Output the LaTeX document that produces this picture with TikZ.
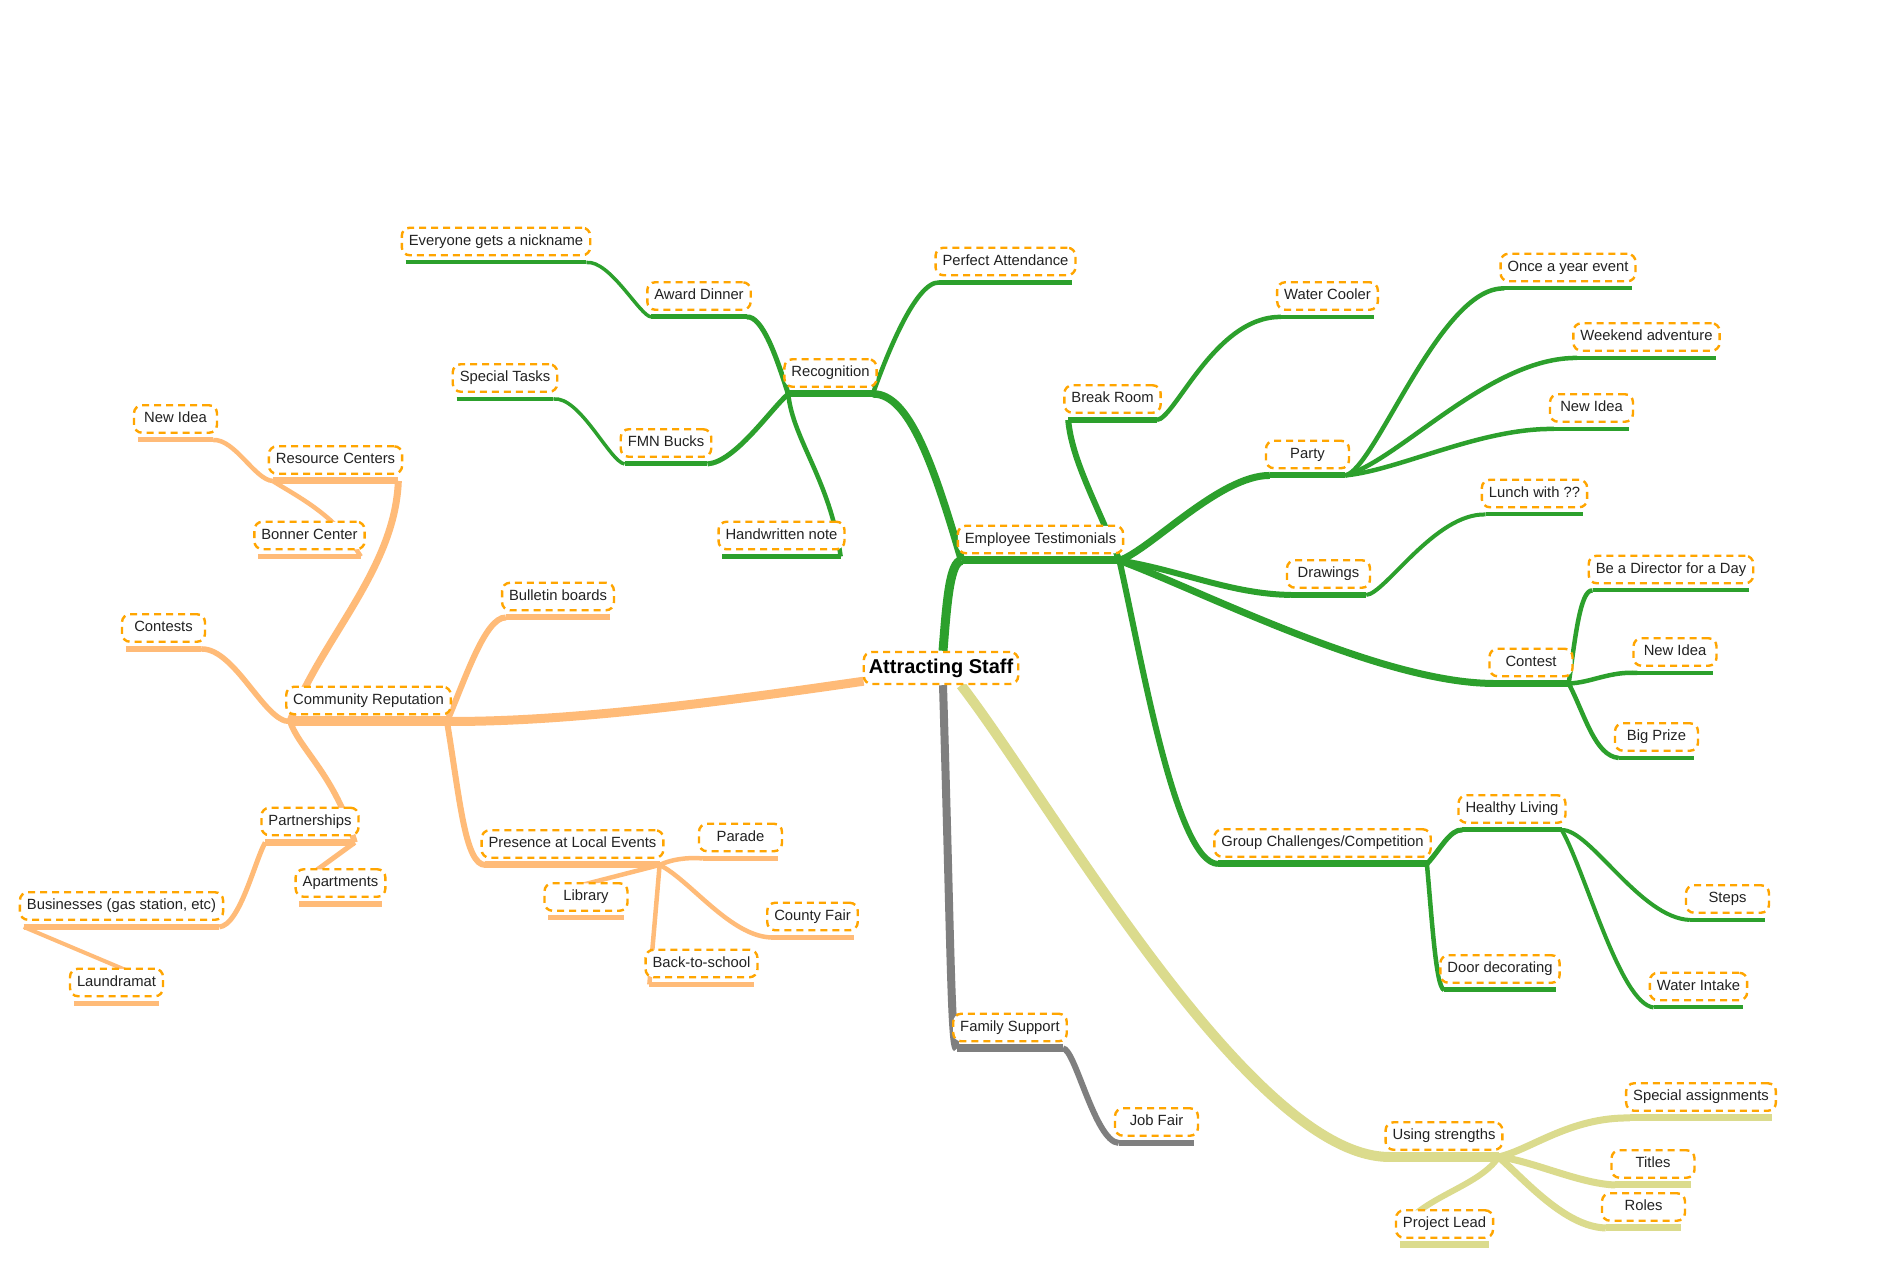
\documentclass[tikz,border=0pt]{standalone}
\usepackage{fontspec}
\setmainfont{Liberation Sans}
\usetikzlibrary{calc}
\definecolor{cgreen}{HTML}{2CA02C}
\definecolor{corange}{HTML}{FFBB78}
\definecolor{cgray}{HTML}{7F7F7F}
\definecolor{cyellow}{HTML}{DBDB8D}
\definecolor{cborder}{HTML}{FFA500}
\definecolor{ctext}{HTML}{222222}
\pgfdeclarelayer{bgfill}
\pgfdeclarelayer{links}
\pgfsetlayers{bgfill,links,main}
\tikzset{
  box/.style={draw=cborder, line width=2.4pt, dash pattern=on 7pt off 5pt,
    rounded corners=8pt, fill=white, text=ctext,
    font=\fontsize{14.8}{17}\selectfont, inner xsep=7pt, inner ysep=6.5pt,
    text height=11pt, text depth=3.5pt, minimum width=83pt},
  rootbox/.style={box, font=\bfseries\fontsize{20}{24}\selectfont, text=black,
    inner xsep=5pt, text height=14.5pt, text depth=4.5pt},
  gl/.style={cgreen, line width=#1},
  ol/.style={corange, line width=#1},
  kl/.style={cgray, line width=#1},
  yl/.style={cyellow, line width=#1}
}
\newcommand\mmnode[4]{%
  \node[box] (#1) at (#2,#3) {#4};
  \coordinate (#1L) at ($(#1.south west)+(5,6)$);
  \coordinate (#1R) at ($(#1.south east)+(-5,6)$);}
\newcommand\uline[2]{\draw[#2] (#1L) -- (#1R);}
\begin{document}
\begin{tikzpicture}[x=1pt,y=-1pt]
\useasboundingbox (0,0) rectangle (1882,1274);
\begin{pgfonlayer}{bgfill}
\fill[white] (0,0) rectangle (1882,1274);
\end{pgfonlayer}

% root
\node[rootbox] (root) at (941,668) {Attracting Staff};
% green branch
\mmnode{et}{1040.5}{539.5}{Employee Testimonials}
\mmnode{rec}{830.5}{373}{Recognition}
\mmnode{aw}{699}{296}{Award Dinner}
\mmnode{nick}{496}{241.5}{Everyone gets a nickname}
\mmnode{fmn}{666}{443}{FMN Bucks}
\mmnode{spt}{505}{378}{Special Tasks}
\mmnode{hw}{781.5}{535.5}{Handwritten note}
\mmnode{pa}{1005.5}{261.5}{Perfect Attendance}
\mmnode{br}{1112.5}{399}{Break Room}
\mmnode{wc}{1327.5}{296}{Water Cooler}
\mmnode{party}{1307.5}{454.5}{Party}
\mmnode{once}{1568}{267.5}{Once a year event}
\mmnode{wk}{1646.5}{337}{Weekend adventure}
\mmnode{nia}{1591.5}{408}{New Idea}
\mmnode{drw}{1328.5}{574}{Drawings}
\mmnode{lunch}{1534.5}{493.5}{Lunch with ??}
\mmnode{contest}{1531}{662.5}{Contest}
\mmnode{dir}{1671}{569.5}{Be a Director for a Day}
\mmnode{nib}{1675}{652}{New Idea}
\mmnode{big}{1656.5}{737}{Big Prize}
\mmnode{gcc}{1322.5}{843}{Group Challenges/Competition}
\mmnode{hl}{1512}{809}{Healthy Living}
\mmnode{dd}{1500}{969}{Door decorating}
\mmnode{steps}{1727.5}{899}{Steps}
\mmnode{wi}{1698.5}{986.5}{Water Intake}
% orange branch
\mmnode{cr}{368.5}{700.5}{Community Reputation}
\mmnode{rc}{335.5}{460}{Resource Centers}
\mmnode{nic}{175.5}{419}{New Idea}
\mmnode{bonner}{309.5}{535.5}{Bonner Center}
\mmnode{contests}{163.5}{628}{Contests}
\mmnode{bb}{558}{596.5}{Bulletin boards}
\mmnode{ple}{572.5}{844}{Presence at Local Events}
\mmnode{parade}{740.5}{837.5}{Parade}
\mmnode{library}{586}{897}{Library}
\mmnode{bts}{701.5}{963.5}{Back-to-school}
\mmnode{cf}{812.5}{916.5}{County Fair}
\mmnode{part}{310}{821.5}{Partnerships}
\mmnode{apt}{340.5}{883}{Apartments}
\mmnode{bus}{121.5}{906}{Businesses (gas station, etc)}
\mmnode{laund}{116.5}{982.5}{Laundramat}
% gray branch
\mmnode{fs}{1010}{1027.5}{Family Support}
\mmnode{jf}{1156.5}{1122}{Job Fair}
% yellow branch
\mmnode{us}{1444}{1136}{Using strengths}
\mmnode{sa}{1701}{1097}{Special assignments}
\mmnode{titles}{1653}{1164}{Titles}
\mmnode{roles}{1643.5}{1207}{Roles}
\mmnode{pl}{1444.5}{1224}{Project Lead}

\begin{pgfonlayer}{links}
% underlines
\uline{et}{gl=8pt}\uline{rec}{gl=7pt}\uline{aw}{gl=5pt}\uline{nick}{gl=4pt}
\uline{fmn}{gl=5pt}\uline{spt}{gl=4pt}\uline{hw}{gl=5pt}\uline{pa}{gl=4.5pt}
\uline{br}{gl=6pt}\uline{wc}{gl=4pt}\uline{party}{gl=6pt}\uline{once}{gl=4pt}
\uline{wk}{gl=4pt}\uline{nia}{gl=4pt}\uline{drw}{gl=6pt}\uline{lunch}{gl=4pt}
\uline{contest}{gl=7pt}\uline{dir}{gl=4pt}\uline{nib}{gl=4pt}\uline{big}{gl=4pt}
\uline{gcc}{gl=7pt}\uline{hl}{gl=5pt}\uline{dd}{gl=5pt}\uline{steps}{gl=4pt}
\uline{wi}{gl=4pt}
\uline{cr}{ol=10pt}\uline{rc}{ol=7pt}\uline{nic}{ol=5pt}\uline{bonner}{ol=5pt}
\uline{contests}{ol=6pt}\uline{bb}{ol=6pt}\uline{ple}{ol=7pt}\uline{parade}{ol=5pt}
\uline{library}{ol=5pt}\uline{bts}{ol=5pt}\uline{cf}{ol=5pt}\uline{part}{ol=7pt}
\uline{apt}{ol=6pt}\uline{bus}{ol=6pt}\uline{laund}{ol=5pt}
\uline{fs}{kl=8pt}\uline{jf}{kl=6pt}
\uline{us}{yl=10pt}\uline{sa}{yl=7pt}\uline{titles}{yl=7pt}\uline{roles}{yl=7pt}
\uline{pl}{yl=7pt}

% root links
\draw[gl=9pt] ($(root.north)+(2,0)$) .. controls (947,600) and (950,562) .. (etL);
\draw[ol=9pt] ($(root.south west)+(1,-4)$) .. controls (700,705) and (560,722) .. (crR);
\draw[kl=8pt] ($(root.south)+(2,0)$) .. controls (951,950) and (951,1048) .. (fsL);
\draw[yl=10pt] ($(root.south)+(20,0)$) .. controls (1050,800) and (1250,1157) .. (usL);

% green links
\draw[gl=7.5pt] (etL) .. controls (935,470) and (910,393) .. (recR);
\draw[gl=5pt] (recL) .. controls (776,355) and (762,316) .. (awR);
\draw[gl=3.5pt] (awL) .. controls (640,316) and (610,260) .. (nickR);
\draw[gl=5pt] (recL) .. controls (770,410) and (735,462) .. (fmnR);
\draw[gl=3.5pt] (fmnL) .. controls (610,462) and (580,396) .. (sptR);
\draw[gl=4.5pt] (recL) .. controls (793,440) and (830,480) .. (hwR);
\draw[gl=4.5pt] (recR) .. controls (885,360) and (915,281) .. (paL);
\draw[gl=6pt] (etR) .. controls (1095,500) and (1072,460) .. (brL);
\draw[gl=4.5pt] (brR) .. controls (1175,419) and (1215,316) .. (wcL);
\draw[gl=7pt] (etR) .. controls (1150,550) and (1220,475) .. (partyL);
\draw[gl=4.5pt] (partyR) .. controls (1375,470) and (1440,286) .. (onceL);
\draw[gl=4.5pt] (partyR) .. controls (1400,460) and (1490,357) .. (wkL);
\draw[gl=4.5pt] (partyR) .. controls (1400,470) and (1480,428) .. (niaL);
\draw[gl=6pt] (etR) .. controls (1180,570) and (1230,594) .. (drwL);
\draw[gl=4pt] (drwR) .. controls (1385,594) and (1435,513) .. (lunchL);
\draw[gl=7pt] (etR) .. controls (1200,590) and (1380,683) .. (contestL);
\draw[gl=4.5pt] (contestR) .. controls (1575,640) and (1580,589) .. (dirL);
\draw[gl=4.5pt] (contestR) .. controls (1590,683) and (1610,671) .. (nibL);
\draw[gl=4.5pt] (contestR) .. controls (1585,715) and (1595,756) .. (bigL);
\draw[gl=6pt] (etR) .. controls (1140,650) and (1175,863) .. (gccL);
\draw[gl=5pt] (gccR) .. controls (1440,850) and (1450,829) .. (hlL);
\draw[gl=4.5pt] (gccR) .. controls (1432,920) and (1436,988) .. (ddL);
\draw[gl=4pt] (hlR) .. controls (1590,829) and (1640,918) .. (stepsL);
\draw[gl=4pt] (hlR) .. controls (1585,870) and (1620,1004) .. (wiL);

% orange links
\draw[ol=7pt] (rcR) .. controls (395,570) and (320,640) .. (crL);
\draw[ol=4.5pt] (nicR) .. controls (235,439) and (255,480) .. (rcL);
\draw[ol=4.5pt] (rcL) .. controls (300,498) and (335,515) .. (bonnerR);
\draw[ol=5.5pt] (contestsR) .. controls (235,648) and (265,723) .. (crL);
\draw[ol=6pt] (crR) .. controls (465,680) and (485,617) .. (bbL);
\draw[ol=6pt] (crR) .. controls (460,800) and (465,865) .. (pleL);
\draw[ol=4.5pt] (pleR) .. controls (670,860) and (685,857) .. (paradeL);
\draw[ol=4.5pt] (pleR) -- ($(library.north west)+(15,9)$);
\draw[ol=4.5pt] (pleR) -- (btsL);
\draw[ol=4.5pt] (pleR) .. controls (690,880) and (730,936) .. (cfL);
\draw[ol=6pt] (crL) .. controls (300,750) and (335,775) .. (partR);
\draw[ol=5pt] (partR) -- ($(apt.north west)+(10,11)$);
\draw[ol=5pt] (partL) .. controls (255,860) and (240,925) .. (busR);
\draw[ol=4pt] (busL) -- ($(laund.north)+(20,7)$);

% gray links
\draw[kl=6pt] (fsR) .. controls (1075,1048) and (1095,1142) .. (jfL);

% yellow links
\draw[yl=7pt] (usR) .. controls (1530,1150) and (1570,1117) .. (saL);
\draw[yl=7pt] (usR) .. controls (1530,1160) and (1580,1184) .. (titlesL);
\draw[yl=7pt] (usR) .. controls (1525,1180) and (1565,1227) .. (rolesL);
\draw[yl=6pt] (usR) .. controls (1480,1185) and (1430,1195) .. ($(pl.north west)+(10,15)$);
\end{pgfonlayer}
\end{tikzpicture}
\end{document}
